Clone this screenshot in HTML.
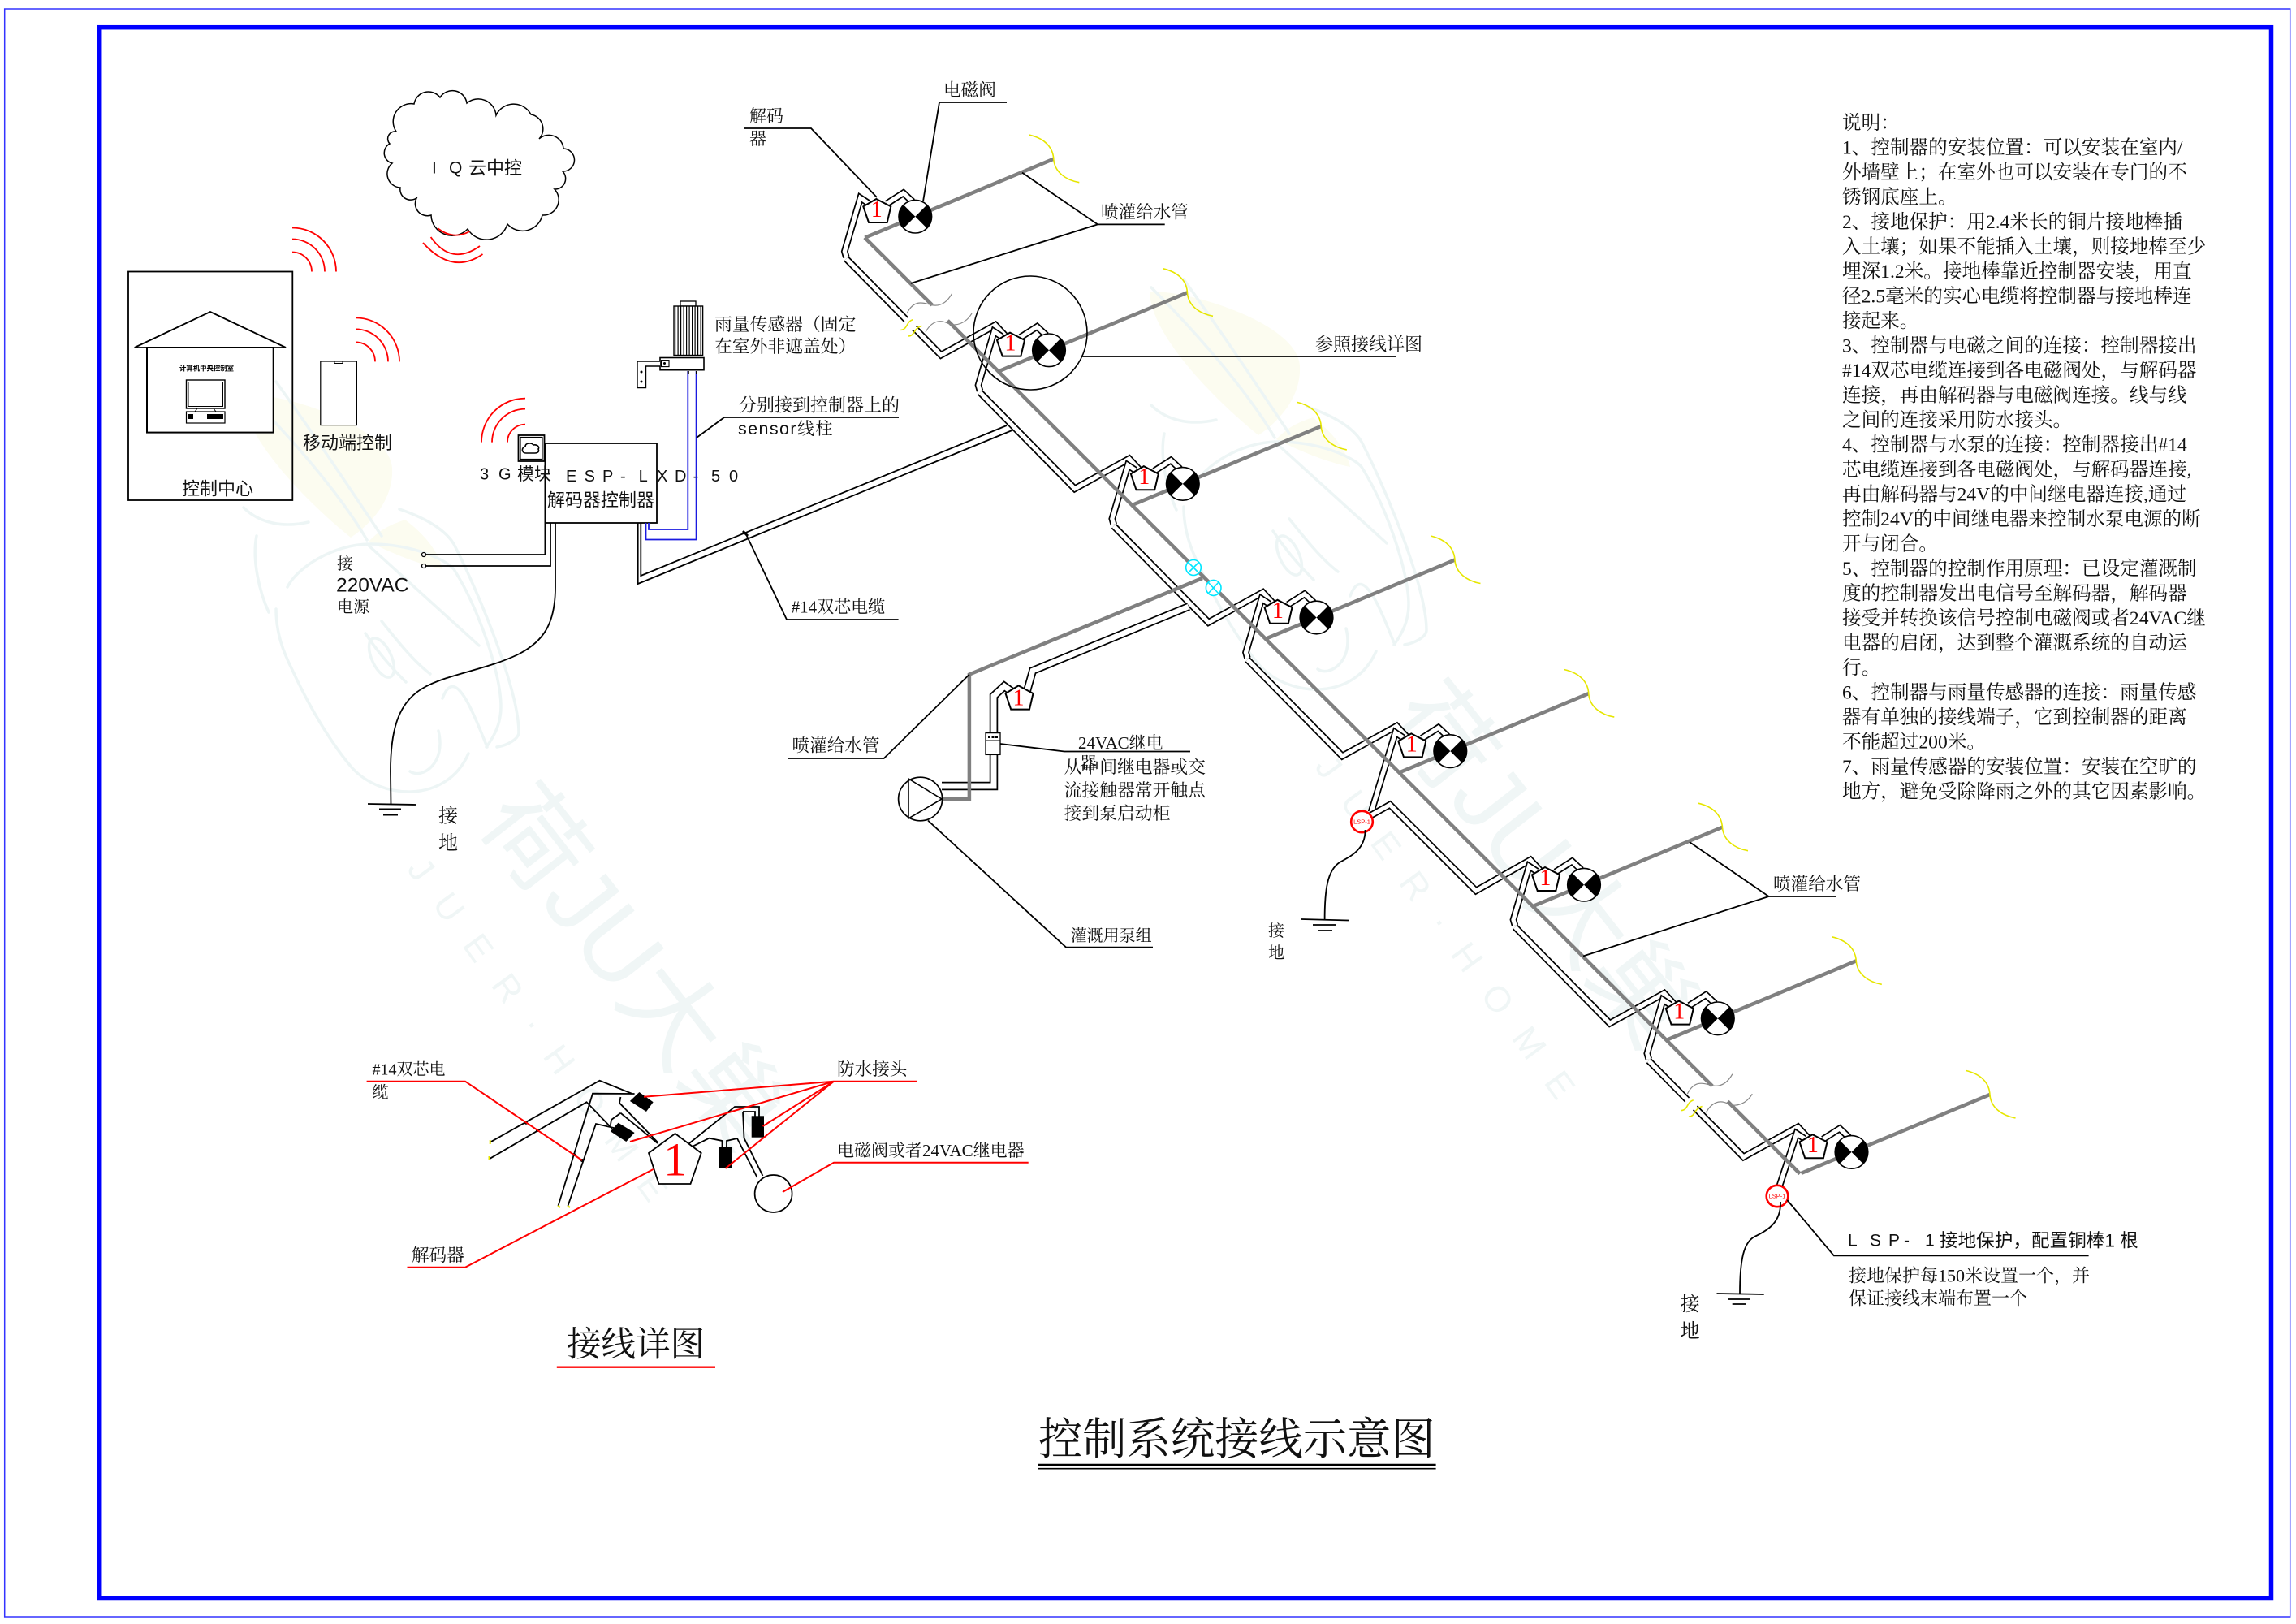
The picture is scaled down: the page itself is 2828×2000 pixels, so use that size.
<!DOCTYPE html>
<html lang="zh"><head><meta charset="utf-8"><title>控制系统接线示意图</title>
<style>
html,body{margin:0;padding:0;background:#fff}
svg{display:block}
text{dominant-baseline:central;fill:#111}
text:not(.nt){transform:translateY(2px)}
.s{font-family:"Liberation Serif","Noto Serif CJK SC",serif}
.h{font-family:"Liberation Sans","Noto Sans CJK SC",sans-serif}
.one{font-family:"Liberation Serif",serif;font-size:28px;fill:#f00;text-anchor:middle}
.w{fill:none;stroke:#000;stroke-width:1.8}
.r{fill:none;stroke:#f00;stroke-width:2}
.wm{fill:none;stroke:#edf5f5;stroke-width:3.5;stroke-linecap:round}
.pipe{fill:none;stroke:#808080;stroke-width:4.5}
</style></head><body>
<svg xmlns="http://www.w3.org/2000/svg" width="2828" height="2000" viewBox="0 0 2828 2000">
<defs>
<g id="bf">
<path d="M298,486C330,480 480,520 483,577C485,620 450,650 432,662C380,620 300,540 298,486Z" fill="#fcfcf0"/>
<path d="M454,667C470,650 485,645 499,640C525,660 540,680 545,701C515,695 480,680 454,667Z" fill="#fcfcf0"/>
<path class="wm" d="M300,625C320,645 350,650 380,643"/>
<path class="wm" d="M316,660C310,690 320,730 331,754"/>
<path class="wm" d="M340,750C340,780 349,803 360,825C390,890 420,930 434,946C470,985 550,990 577,928"/>
<path class="wm" d="M354,723C365,700 410,670 456,670C510,670 550,690 559,701C590,750 617,830 617,870C617,890 610,905 599,920"/>
<path class="wm" d="M452,670L590,795"/>
<path class="wm" d="M492,627C530,640 550,655 559,670C590,730 639,850 639,902C639,910 625,918 612,920"/>
<path class="wm" d="M450,780C470,810 490,830 500,840M470,765C490,790 510,815 530,830M300,480C360,540 420,610 452,665M340,470C390,540 430,600 470,660"/>
<ellipse cx="470" cy="810" rx="12" ry="26" transform="rotate(-25 470 810)" class="wm"/>
<path class="wm" d="M545,860C560,820 580,870 600,920M540,900C550,940 520,960 505,950"/>
<text transform="translate(620 985) rotate(52)" class="h nt" style="font-size:124px;fill:#f0f6f6">荷JU大巢</text>
<text transform="translate(512 1062) rotate(54)" class="h nt" style="font-size:44px;letter-spacing:31px;fill:#f0f6f6">JUER·HOME</text>
</g>
<g id="c"><path d="M-35,-16L-14.6,-29L-3.3,-18.4" fill="none" stroke="#000" stroke-width="8.6"/><path d="M-35,-16L-14.6,-29L-3.3,-18.4" fill="none" stroke="#fff" stroke-width="5.2"/></g>
<g id="lc"><path d="M-58,-16.7L-67.6,-23L-87,43L-85,50" fill="none" stroke="#000" stroke-width="8.6"/><path d="M-58,-16.7L-67.6,-23L-87,43L-85,50" fill="none" stroke="#fff" stroke-width="5.2"/></g>
<g id="run"><path d="M-249.7,-112.6L-133,6L-66,-31L-53,-17" fill="none" stroke="#000" stroke-width="8.6"/><path d="M-249.7,-112.6L-133,6L-66,-31L-53,-17" fill="none" stroke="#fff" stroke-width="5.2"/></g>
<g id="bp">
<path d="M-62,26L170.5,-71" class="pipe"/>
<path d="M140.6,-100.5C160,-96 170,-85 170.5,-70C172,-55 185,-45 202,-42" fill="none" stroke="#e6e600" stroke-width="1.6"/>
</g>
<g id="pv">
<path d="M-48,-21.7L-30,-12.4L-34.6,7.3L-57.3,7.3L-64,-12.4Z" fill="#fff" stroke="#000" stroke-width="2"/>
<circle r="20.3" fill="#fff" stroke="#000" stroke-width="1.6"/>
<path d="M-14.4,-14.4L14.4,14.4A20.3,20.3 0 0 0 14.4,-14.4L-14.4,14.4A20.3,20.3 0 0 1 -14.4,-14.4Z" fill="#000"/>
</g>
<g id="brk">
<path d="M1148,376L1167,395" stroke="#fff" stroke-width="9" fill="none"/>
<path d="M1116,394L1126,404" stroke="#fff" stroke-width="13" fill="none"/>
<path d="M1117,386C1125,370 1135,372 1145,375C1155,378 1165,375 1172.6,361.5M1140,409C1147,396 1157,393 1167,398C1177,403 1190,398 1197,386" fill="none" stroke="#888" stroke-width="1.2"/>
<path d="M1109.4,406.4C1118,406 1116,396 1124.4,393.6M1118.6,414C1127,414 1125,404 1135.3,401.3" fill="none" stroke="#e6e600" stroke-width="1.6"/>
</g>
<g id="wf"><path d="M0,-54A54,54 0 0 1 54,0M0,-40A40,40 0 0 1 40,0M0,-24A24,24 0 0 1 24,0" fill="none" stroke="#f00" stroke-width="1.8"/></g>
</defs>

<rect width="2828" height="2000" fill="#fff"/>
<use href="#bf"/>
<use href="#bf" transform="translate(1118 -126)"/>

<rect x="5.7" y="11" width="2815" height="1980" fill="none" stroke="#3333ff" stroke-width="1.5"/>
<rect x="122.7" y="33.7" width="2674.8" height="1934.8" fill="none" stroke="#0000ff" stroke-width="5.5"/>

<!-- cloud -->
<path transform="translate(7 3)" d="M481,159A22,22 0 0 1 503,125A18,18 0 0 1 535,117A18,18 0 0 1 568,124A22,22 0 0 1 604,139A24,24 0 0 1 647,138A18,18 0 0 1 657,168A18,18 0 0 1 687,180A14,14 0 0 1 686,208A13,13 0 0 1 676,230A19,19 0 0 1 661,262A25,25 0 0 1 618,273A27,27 0 0 1 569,279A26,26 0 0 1 524,262A15,15 0 0 1 506,241A13,13 0 0 1 486,228A17,17 0 0 1 476,198A13,13 0 0 1 473,174A9,9 0 0 1 481,159Z" fill="#fff" stroke="#000" stroke-width="1.5"/>
<text class="h" x="532" y="205" style="font-size:21px">I</text>
<text class="h" x="553" y="205" style="font-size:21px">Q</text>
<text class="h" x="577" y="205" style="font-size:22px">云中控</text>
<path d="M521,299Q557,339 594.5,313M530.6,292Q556,328 591,303M539,281Q558,296 578.5,285" fill="none" stroke="#f00" stroke-width="1.8"/>

<!-- control centre -->
<use href="#wf" transform="translate(360 334.5)"/>
<rect x="158" y="334.5" width="202.3" height="281.5" fill="none" stroke="#000" stroke-width="1.8"/>
<path d="M165.7,428L259,384L352,428Z" fill="#fff" stroke="#000" stroke-width="1.8"/>
<rect x="181" y="428" width="155.7" height="104.6" fill="#fff" stroke="#000" stroke-width="2"/>
<text class="h" x="221" y="451.5" style="font-size:8.4px;font-weight:700;fill:#000">计算机中央控制室</text>
<rect x="229.5" y="468" width="47.5" height="35" fill="#fff" stroke="#000" stroke-width="1.4"/>
<rect x="232" y="470.5" width="42.5" height="30" fill="#fff" stroke="#000" stroke-width="1"/>
<path d="M243,503L240,507H266L263,503" fill="none" stroke="#000" stroke-width="1"/>
<rect x="229.5" y="507" width="47.5" height="14" fill="#fff" stroke="#000" stroke-width="1.2"/>
<rect x="232" y="510" width="6" height="6" fill="#000"/><rect x="255" y="510" width="20" height="6" fill="#000"/>
<text class="h" x="224" y="600" style="font-size:22px">控制中心</text>

<!-- phone -->
<use href="#wf" transform="translate(438 445.4)"/>
<rect x="394.8" y="445" width="44.6" height="78.6" fill="#fff" stroke="#000" stroke-width="1.2"/>
<rect x="412" y="445" width="10" height="2.5" fill="none" stroke="#000" stroke-width="1"/>
<text class="h" x="373" y="543.6" style="font-size:22px">移动端控制</text>

<!-- controller -->
<g transform="translate(647 544.6) scale(-1 1)"><path d="M0,-54A54,54 0 0 1 54,0M0,-41A41,41 0 0 1 41,0M0,-22A22,22 0 0 1 22,0" fill="none" stroke="#f00" stroke-width="1.8"/></g>
<rect x="671.4" y="546" width="137.6" height="98" fill="#fff" stroke="#000" stroke-width="1.8"/>
<rect x="638.5" y="536" width="32" height="32" fill="#fff" stroke="#000" stroke-width="1.8"/>
<rect x="641" y="538.5" width="27" height="27" fill="none" stroke="#000" stroke-width="1.2"/>
<path d="M648,558C642,558 642,551 647,550C647,545 655,545 657,548C662,547 665,551 663,553C665,557 661,558 659,558Z" fill="none" stroke="#000" stroke-width="1.6"/>
<text class="h" x="591 614" y="582.6" style="font-size:20px">3G</text>
<text class="h" x="637" y="582.6" style="font-size:21px">模块</text>
<text class="h" x="697 719.6 742 764 786.6 809 831 853.6 876 898" y="585" style="font-size:20px">ESP-LXD-50</text>
<text class="h" x="674" y="614" style="font-size:22px">解码器控制器</text>
<path class="w" d="M671.4,644V683H522"/><path class="w" d="M678,644V697H522" stroke-width="2.2"/>
<circle cx="522" cy="683" r="2.5" fill="#fff" stroke="#000" stroke-width="1.3"/><circle cx="522" cy="697" r="2.5" fill="#fff" stroke="#000" stroke-width="1.3"/>
<text class="s" x="415" y="693" style="font-size:20px">接</text>
<text class="h" x="414" y="719" style="font-size:24.5px">220VAC</text>
<text class="s" x="415" y="746" style="font-size:20px">电源</text>
<path class="w" d="M684,644V723C684,770 668,790 640,805C600,825 550,830 520,848C490,866 481,900 481,950L481.5,991"/>
<path class="w" d="M453,990L512,991M467,996.4H494M472,1003.6H490"/>
<text class="s" x="540" y="1003.6" style="font-size:24px">接</text>
<text class="s" x="540" y="1037" style="font-size:24px">地</text>

<!-- sensor wires -->
<path d="M799,644V652H847.3V457M795.5,644V664.5H857.6V457" fill="none" stroke="#1a1ae0" stroke-width="1.8"/>
<path d="M847.8,457v4M858,457v4" stroke="#000" stroke-width="2"/>

<!-- rain sensor -->
<rect x="838" y="371" width="19" height="6" fill="#fff" stroke="#000" stroke-width="1.3"/>
<rect x="830" y="377" width="35.6" height="60.5" fill="#fff" stroke="#000" stroke-width="1.4"/>
<line x1="831" x2="865" y1="407.5" y2="407.5" stroke="#000" stroke-width="60" stroke-dasharray="1.2 2.3"/>
<rect x="813" y="440.5" width="54" height="15.2" fill="#fff" stroke="#000" stroke-width="1.6"/>
<rect x="814.5" y="443.6" width="9.5" height="8" fill="none" stroke="#000" stroke-width="1.1"/>
<path d="M813,445H785V477.5H795.5V451H813" fill="#fff" stroke="#000" stroke-width="1.4"/>
<circle cx="790" cy="458" r="1.5"/><circle cx="790" cy="470" r="1.5"/><circle cx="818.5" cy="447.5" r="1.5"/>
<text class="s" x="880" y="398" style="font-size:21.8px">雨量传感器（固定</text>
<text class="s" x="880" y="425" style="font-size:21.8px">在室外非遮盖处）</text>
<path class="w" d="M858,539L892,514H1107"/>
<text class="s" x="910" y="497" style="font-size:22px">分别接到控制器上的</text>
<text class="h" x="909" y="526" style="font-size:21.5px;letter-spacing:1.4px">sensor<tspan class="s" style="font-size:21px">线柱</tspan></text>

<!-- cable to run -->
<path class="w" d="M785.7,644V719L1249,529"/><path class="w" d="M789.3,644V709L1240,524"/>
<path class="w" d="M918,656L969,763H1106.6"/>
<path d="M915,654L921,660" stroke="#000" stroke-width="3"/>
<text class="s" x="974.6" y="745.6" style="font-size:21px">#14双芯电缆</text>

<!-- cables -->
<use href="#c" x="1127.3" y="266.7"/><use href="#lc" x="1127.3" y="266.7"/>
<use href="#run" x="1292" y="431.3"/><use href="#c" x="1292" y="431.3"/><use href="#lc" x="1292" y="431.3"/>
<use href="#run" x="1456.8" y="595.9"/><use href="#c" x="1456.8" y="595.9"/><use href="#lc" x="1456.8" y="595.9"/>
<use href="#run" x="1621.5" y="760.5"/><use href="#c" x="1621.5" y="760.5"/><use href="#lc" x="1621.5" y="760.5"/>
<use href="#run" x="1786.3" y="925.1"/><use href="#c" x="1786.3" y="925.1"/>
<path d="M1728.2,908.4L1718.7,902.1L1689,1000" fill="none" stroke="#000" stroke-width="8.6"/><path d="M1728.2,908.4L1718.7,902.1L1689,1000" fill="none" stroke="#fff" stroke-width="5.2"/>
<path d="M1687,1005L1712,991L1818,1097L1885,1059L1898,1073" fill="none" stroke="#000" stroke-width="8.6"/><path d="M1687,1005L1712,991L1818,1097L1885,1059L1898,1073" fill="none" stroke="#fff" stroke-width="5.2"/>
<use href="#c" x="1951" y="1089.7"/><use href="#lc" x="1951" y="1089.7"/>
<use href="#run" x="2115.8" y="1254.3"/><use href="#c" x="2115.8" y="1254.3"/><use href="#lc" x="2115.8" y="1254.3"/>
<use href="#run" x="2280.5" y="1418.9"/><use href="#c" x="2280.5" y="1418.9"/>
<path d="M2222.5,1402.2L2212.9,1395.9L2192,1460" fill="none" stroke="#000" stroke-width="8.6"/><path d="M2222.5,1402.2L2212.9,1395.9L2192,1460" fill="none" stroke="#fff" stroke-width="5.2"/>

<!-- pump cable -->
<path d="M1160,968H1224V857L1237,845L1248,853" fill="none" stroke="#000" stroke-width="10.5"/><path d="M1160,968H1224V857L1237,845L1248,853" fill="none" stroke="#fff" stroke-width="7"/>
<path d="M1265,851L1272,826L1464,747" fill="none" stroke="#000" stroke-width="10"/><path d="M1265,851L1272,826L1464,747" fill="none" stroke="#fff" stroke-width="6.6"/>

<!-- pipes -->
<path class="pipe" d="M1065,292.5L2217,1445.5"/>
<path class="pipe" d="M1481,712L1193.9,830.6V983.7H1160"/>
<use href="#bp" x="1127.3" y="266.7"/><use href="#bp" x="1292" y="431.3"/><use href="#bp" x="1456.8" y="595.9"/><use href="#bp" x="1621.5" y="760.5"/><use href="#bp" x="1786.3" y="925.1"/><use href="#bp" x="1951" y="1089.7"/><use href="#bp" x="2115.8" y="1254.3"/><use href="#bp" x="2280.5" y="1418.9"/>
<use href="#brk"/><use href="#brk" transform="translate(961.3 961.2)"/>

<!-- modules -->
<use href="#pv" x="1127.3" y="266.7"/><use href="#pv" x="1292" y="431.3"/><use href="#pv" x="1456.8" y="595.9"/><use href="#pv" x="1621.5" y="760.5"/><use href="#pv" x="1786.3" y="925.1"/><use href="#pv" x="1951" y="1089.7"/><use href="#pv" x="2115.8" y="1254.3"/><use href="#pv" x="2280.5" y="1418.9"/>
<text class="one nt" x="1079.7" y="258.5">1</text><text class="one nt" x="1244.4" y="423.1">1</text><text class="one nt" x="1409.2" y="587.7">1</text><text class="one nt" x="1573.9" y="752.3">1</text><text class="one nt" x="1738.7" y="916.9">1</text><text class="one nt" x="1903.4" y="1081.5">1</text><text class="one nt" x="2068.2" y="1246.1">1</text><text class="one nt" x="2232.9" y="1410.7">1</text>
<path d="M1254.5,844.4L1272.5,854L1268,873.6H1245.2L1238.5,854Z" fill="#fff" stroke="#000" stroke-width="2"/>
<text class="one nt" x="1254.5" y="860">1</text>

<!-- detail circle -->
<ellipse cx="1269" cy="410" rx="70" ry="70" fill="none" stroke="#000" stroke-width="1.6"/>
<path class="w" d="M1332,439H1720"/>
<text class="s" x="1620" y="422" style="font-size:22px">参照接线详图</text>

<!-- cyan valves -->
<g fill="none" stroke="#00e6ff" stroke-width="1.6">
<ellipse cx="1470" cy="699" rx="9.3" ry="9.5" fill="#fff"/><path d="M1463.5,692.5L1476.5,705.5M1476.5,692.5L1463.5,705.5"/>
<ellipse cx="1494.7" cy="723.9" rx="9.3" ry="9.5" fill="#fff"/><path d="M1488,717L1501,731M1501,717L1488,731"/>
</g>

<!-- pump -->
<ellipse cx="1133.6" cy="984" rx="27" ry="26.8" fill="#fff" stroke="#000" stroke-width="1.7"/>
<path d="M1119,959L1160,984L1119,1008Z" fill="none" stroke="#000" stroke-width="1.6"/>
<rect x="1214" y="902.6" width="18" height="26.8" fill="#fff" stroke="#000" stroke-width="1.3"/>
<path d="M1214,912H1232" stroke="#000" stroke-width="1"/><path d="M1217,908H1229" stroke="#000" stroke-width="2" stroke-dasharray="3 1.5"/>
<path class="w" d="M1232,916L1311,925.5H1466"/>
<text class="s" x="1328" y="913" style="font-size:21px">24VAC继电</text>
<text class="s" x="1330" y="938" style="font-size:21px">器</text>
<text class="s" x="1310.6" y="943" style="font-size:21.8px">从中间继电器或交</text>
<text class="s" x="1310.6" y="971.5" style="font-size:21.8px">流接触器常开触点</text>
<text class="s" x="1310.6" y="1000" style="font-size:21.8px">接到泵启动柜</text>
<path class="w" d="M1143,1010.5L1313,1166.6H1420"/>
<text class="s" x="1318.7" y="1151" style="font-size:20px">灌溉用泵组</text>
<path class="w" d="M970.4,934H1088.7L1193.9,830.6"/>
<text class="s" x="975.5" y="916.7" style="font-size:21.6px">喷灌给水管</text>

<!-- top labels -->
<text class="s" x="923" y="141" style="font-size:21px">解码</text>
<text class="s" x="923" y="169" style="font-size:21px">器</text>
<path class="w" d="M917,158H999L1080,243"/>
<text class="s" x="1162" y="109" style="font-size:21.6px">电磁阀</text>
<path class="w" d="M1240,126H1157L1137,248"/>
<text class="s" x="1356" y="259.6" style="font-size:21.6px">喷灌给水管</text>
<path class="w" d="M1434.7,276.4H1352L1259,212.6M1352,276.4L1121.7,349"/>

<!-- LSP -->
<ellipse cx="1677.5" cy="1012" rx="13.3" ry="13.2" fill="#fff" stroke="#f00" stroke-width="2.6"/>
<text class="h nt" x="1677.5" y="1012" text-anchor="middle" style="font-size:7.5px;fill:#f00">LSP-1</text>
<path class="w" d="M1681.5,1022C1682,1045 1665,1054 1650,1062C1635,1072 1631.6,1095 1631.6,1133"/>
<path class="w" d="M1603,1132L1661,1133.5M1617,1139H1646M1623,1146H1641"/>
<text class="s" x="1562" y="1145" style="font-size:20px">接</text>
<text class="s" x="1562" y="1172" style="font-size:20px">地</text>
<ellipse cx="2189" cy="1473" rx="13.3" ry="13.2" fill="#fff" stroke="#f00" stroke-width="2.6"/>
<text class="h nt" x="2189" y="1473" text-anchor="middle" style="font-size:7.5px;fill:#f00">LSP-1</text>
<path class="w" d="M2193,1480C2194,1505 2178,1515 2161,1523C2148,1530 2143,1550 2143,1593"/>
<path class="w" d="M2114.5,1593L2172.7,1594M2128.7,1600H2155.5M2133.7,1606H2151"/>
<text class="s" x="2069.6" y="1605" style="font-size:24px">接</text>
<text class="s" x="2069.6" y="1638" style="font-size:24px">地</text>
<path class="w" d="M2201.4,1478L2258.8,1546.3H2572.6"/>
<text class="h" x="2276 2303 2326 2345 2371" y="1526" style="font-size:21px">LSP-1</text>
<text class="h" x="2389" y="1526" style="font-size:22.6px">接地保护，配置铜棒1 根</text>
<text class="s" x="2277" y="1569" style="font-size:22px">接地保护每150米设置一个，并</text>
<text class="s" x="2277" y="1597" style="font-size:22px">保证接线末端布置一个</text>
<text class="s" x="2184" y="1087" style="font-size:21.6px">喷灌给水管</text>
<path class="w" d="M2262,1104H2178.6L2081,1037M2178.6,1104L1950,1177.5"/>

<!-- detail drawing -->
<g class="w">
<path class="w" d="M603.7,1406.7L738.6,1330.7L778.8,1347M603.7,1426.7L722.5,1357.3L754,1390M687.5,1485L730,1346.7L781.6,1347M699.5,1485L734,1384L756,1389"/>
<path class="w" d="M764.4,1351L763,1358.3L810,1406.7M764.4,1370.7L810,1408M764.4,1370.7L753,1379L752,1385"/>
<path class="w" d="M849,1408L905,1363H935V1375M915,1369H930V1375M915,1369L916.5,1401.7L939.5,1448M853.4,1411.7L873.5,1401.7L889.5,1405V1412M908,1402L895,1405V1412M908,1402L932.6,1450"/>
</g>
<path d="M787.4,1345L804.6,1357.3L796,1369L775.9,1356ZM761.5,1382.7L781.6,1395L771.3,1406L751.8,1393.3Z" fill="#000"/>
<rect x="925.7" y="1374.3" width="15.3" height="26.4" fill="#000"/><rect x="886" y="1412.3" width="15" height="26.7" fill="#000"/>
<path d="M831.6,1396L863.7,1420L850.5,1458H811.5L799,1420Z" fill="#fff" stroke="#000" stroke-width="1.8"/>
<text class="s nt" x="831.6" y="1428" text-anchor="middle" style="font-size:58px;fill:#f00">1</text>
<ellipse cx="952.6" cy="1470" rx="23" ry="23" fill="#fff" stroke="#000" stroke-width="1.7"/>
<path d="M603.7,1404v5M602.5,1424v5M687,1485l3,2M699,1485l3,2" stroke="#e6e600" stroke-width="2"/>
<circle cx="648" cy="1382.7" r="2"/><circle cx="662" cy="1392" r="2"/><circle cx="707" cy="1422" r="2"/><circle cx="717" cy="1429" r="2"/>
<path class="r" d="M451.6,1331.7H573L717,1429"/>
<path class="r" d="M1129,1331.7H1027L793,1350.7M1027,1331.7L776,1406M1027,1331.7L939.5,1387M1027,1331.7L893.5,1439"/>
<path class="r" d="M1266.7,1431.7H1027L964,1468"/>
<path class="r" d="M501.5,1560.7H573L804.6,1440"/>
<text class="s" x="458.5" y="1315.7" style="font-size:20px">#14双芯电</text>
<text class="s" x="458.5" y="1344" style="font-size:20px">缆</text>
<text class="s" x="1031" y="1315" style="font-size:21.6px">防水接头</text>
<text class="s" x="1031" y="1415" style="font-size:21px">电磁阀或者24VAC继电器</text>
<text class="s" x="507" y="1544" style="font-size:21.6px">解码器</text>
<text class="s" x="698" y="1654.7" style="font-size:42.5px">接线详图</text>
<path d="M685.8,1683.7H881" stroke="#f00" stroke-width="2.4"/>

<!-- title -->
<text class="s" x="1279" y="1771" style="font-size:54.3px">控制系统接线示意图</text>
<path d="M1278.8,1804H1768.6" stroke="#000" stroke-width="2.6"/><path d="M1278.8,1808.7H1768.6" stroke="#000" stroke-width="1.6"/>

<!-- notes -->
<g class="s" style="font-size:23.6px">
<text x="2269" y="150">说明：</text>
<text x="2269" y="180.5">1、控制器的安装位置：可以安装在室内/</text>
<text x="2269" y="211">外墙壁上；在室外也可以安装在专门的不</text>
<text x="2269" y="241.5">锈钢底座上。</text>
<text x="2269" y="272">2、接地保护：用2.4米长的铜片接地棒插</text>
<text x="2269" y="302.5">入土壤；如果不能插入土壤，则接地棒至少</text>
<text x="2269" y="333">埋深1.2米。接地棒靠近控制器安装，用直</text>
<text x="2269" y="363.5">径2.5毫米的实心电缆将控制器与接地棒连</text>
<text x="2269" y="394">接起来。</text>
<text x="2269" y="424.5">3、控制器与电磁之间的连接：控制器接出</text>
<text x="2269" y="455">#14双芯电缆连接到各电磁阀处，与解码器</text>
<text x="2269" y="485.5">连接，再由解码器与电磁阀连接。线与线</text>
<text x="2269" y="516">之间的连接采用防水接头。</text>
<text x="2269" y="546.5">4、控制器与水泵的连接：控制器接出#14</text>
<text x="2269" y="577">芯电缆连接到各电磁阀处，与解码器连接,</text>
<text x="2269" y="607.5">再由解码器与24V的中间继电器连接,通过</text>
<text x="2269" y="638">控制24V的中间继电器来控制水泵电源的断</text>
<text x="2269" y="668.5">开与闭合。</text>
<text x="2269" y="699">5、控制器的控制作用原理：已设定灌溉制</text>
<text x="2269" y="729.5">度的控制器发出电信号至解码器，解码器</text>
<text x="2269" y="760">接受并转换该信号控制电磁阀或者24VAC继</text>
<text x="2269" y="790.5">电器的启闭，达到整个灌溉系统的自动运</text>
<text x="2269" y="821">行。</text>
<text x="2269" y="851.5">6、控制器与雨量传感器的连接：雨量传感</text>
<text x="2269" y="882">器有单独的接线端子，它到控制器的距离</text>
<text x="2269" y="912.5">不能超过200米。</text>
<text x="2269" y="943">7、雨量传感器的安装位置：安装在空旷的</text>
<text x="2269" y="973.5">地方，避免受除降雨之外的其它因素影响。</text>
</g>
</svg>
</body></html>
